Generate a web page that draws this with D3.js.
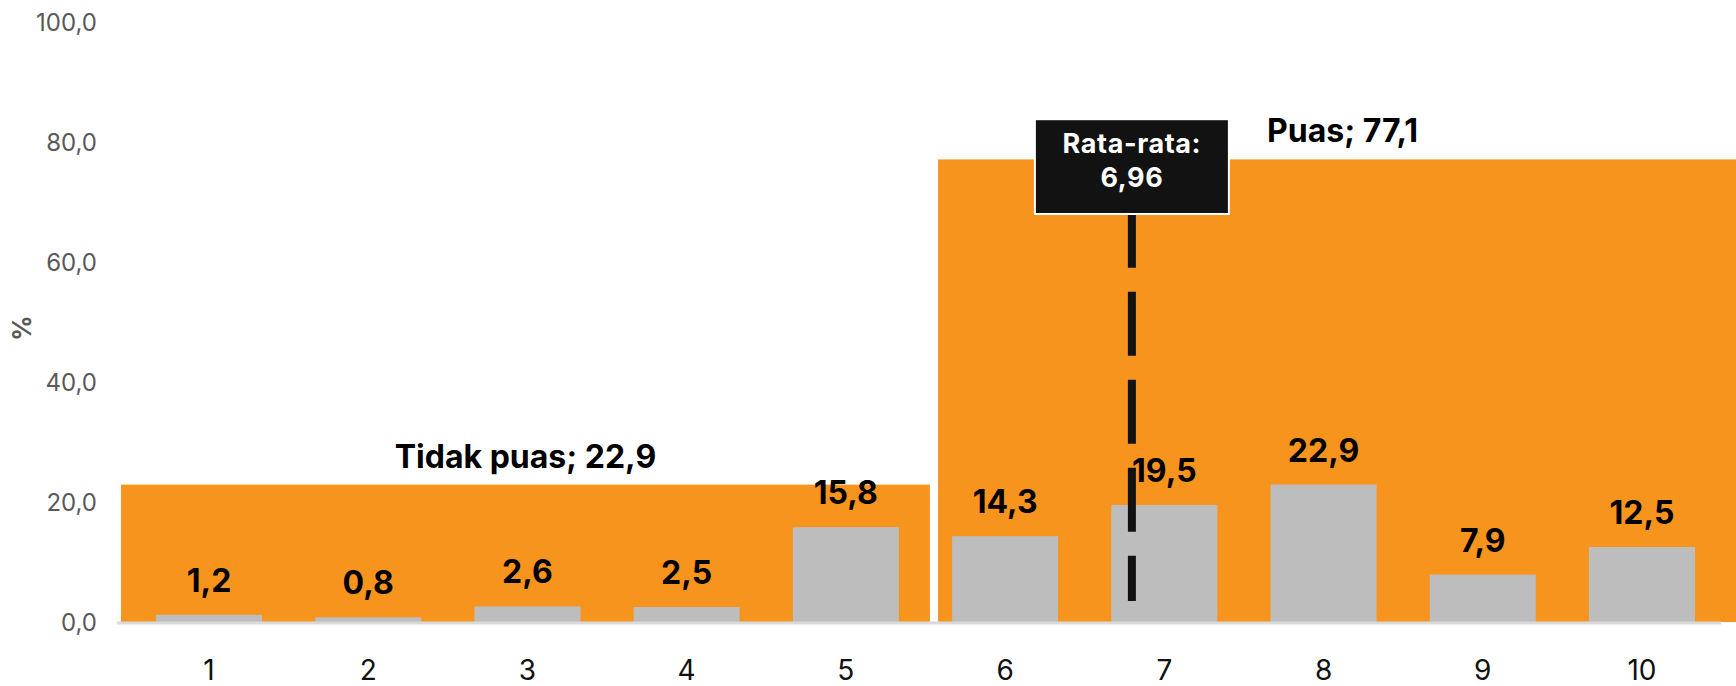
<!DOCTYPE html>
<html>
<head>
<meta charset="utf-8">
<script src="https://cdn.jsdelivr.net/npm/d3@7"></script>
<style>
  body { margin: 0; background: #fff; }
  text { font-family: Inter, "Noto Sans", sans-serif; }
</style>
</head>
<body>
<script>
var categories = ['1', '2', '3', '4', '5', '6', '7', '8', '9', '10'];
var values = [1.2, 0.8, 2.6, 2.5, 15.8, 14.3, 19.5, 22.9, 7.9, 12.5];
var groups = ['Tidak puas', 'Puas'];
var groupValues = [22.9, 77.1];
var yTicks = [0, 20, 40, 60, 80, 100];
var meanLabel = 'Rata-rata:';
var meanValue = 6.96;

var width = 1736;
var height = 686;

var locale = d3.formatLocale({ decimal: ',', thousands: '.', grouping: [3], currency: ['', ''] });
var fmt1 = locale.format('.1f');
var fmt2 = locale.format('.2f');

var svg = d3.select('body').append('svg')
    .attr('width', width)
    .attr('height', height);

var x = d3.scaleBand()
    .domain(categories)
    .range([129.4, 1721.6])
    .paddingInner(0.334)
    .paddingOuter(0.167);

// background blocks sit on their own band scale
var xg = d3.scaleBand()
    .domain(groups)
    .range([121, 1747])
    .paddingInner(0.01);

// secondary axis used for the mean marker
var xm = d3.scaleLinear()
    .domain([0, categories.length + 1])
    .range([117, 1721]);

var y = d3.scaleLinear()
    .domain([0, 100])
    .range([622, 22]);

// y tick labels
svg.append('g').selectAll('text')
    .data(yTicks)
    .join('text')
    .attr('x', 97)
    .attr('y', function (d) { return y(d); })
    .attr('dy', '0.36em')
    .attr('text-anchor', 'end')
    .attr('fill', '#595959')
    .attr('font-size', 24)
    .text(function (d) { return fmt1(d); });

svg.append('text')
    .attr('transform', 'translate(31,' + y(49) + ') rotate(-90)')
    .attr('text-anchor', 'middle')
    .attr('fill', '#595959')
    .attr('font-size', 25)
    .attr('font-weight', 700)
    .text('%');

// orange group blocks
svg.append('g').selectAll('rect')
    .data(groups)
    .join('rect')
    .attr('x', function (d) { return xg(d); })
    .attr('width', xg.bandwidth())
    .attr('y', function (d, i) { return y(groupValues[i]); })
    .attr('height', function (d, i) { return y(0) - y(groupValues[i]); })
    .attr('fill', '#f7941e');

svg.append('g').selectAll('text')
    .data(groups)
    .join('text')
    .attr('x', function (d) { return xg(d) + xg.bandwidth() / 2; })
    .attr('y', function (d, i) { return y(groupValues[i]) - 17; })
    .attr('text-anchor', 'middle')
    .attr('font-size', 32)
    .attr('font-weight', 'bold')
    .attr('fill', '#000')
    .text(function (d, i) { return d + '; ' + fmt1(groupValues[i]); });

// grey bars
svg.append('g').selectAll('rect')
    .data(values)
    .join('rect')
    .attr('x', function (d, i) { return x(categories[i]); })
    .attr('width', x.bandwidth())
    .attr('y', function (d) { return y(d); })
    .attr('height', function (d) { return y(0) - y(d); })
    .attr('fill', '#bdbdbd');

// x axis
var xAxis = svg.append('g')
    .attr('transform', 'translate(0,' + y(0) + ')')
    .call(d3.axisBottom(x).tickSize(0).tickPadding(38));
xAxis.select('.domain').remove();
xAxis.selectAll('text')
    .attr('font-family', 'Inter, sans-serif')
    .attr('font-size', 28)
    .attr('fill', '#111');

svg.append('line')
    .attr('x1', 117)
    .attr('x2', 1721)
    .attr('y1', y(0) + 1)
    .attr('y2', y(0) + 1)
    .attr('stroke', '#d9d9d9')
    .attr('stroke-width', 3);

// mean marker
var mx = xm(meanValue);
svg.append('line')
    .attr('x1', mx)
    .attr('x2', mx)
    .attr('y1', y(69.7))
    .attr('y2', y(3.5))
    .attr('stroke', '#111211')
    .attr('stroke-width', 8)
    .attr('stroke-dasharray', '64 24');

// value labels
svg.append('g').selectAll('text')
    .data(values)
    .join('text')
    .attr('x', function (d, i) { return x(categories[i]) + x.bandwidth() / 2; })
    .attr('y', function (d) { return y(d) - 23; })
    .attr('text-anchor', 'middle')
    .attr('font-size', 32)
    .attr('font-weight', 'bold')
    .attr('fill', '#000')
    .text(function (d) { return fmt1(d); });

svg.append('rect')
    .attr('x', mx - 97)
    .attr('width', 194)
    .attr('y', y(83.8))
    .attr('height', y(68) - y(83.8))
    .attr('fill', '#111211')
    .attr('stroke', '#fff')
    .attr('stroke-width', 2);

svg.append('text')
    .attr('x', mx)
    .attr('y', 153)
    .attr('text-anchor', 'middle')
    .attr('font-size', 27)
    .attr('font-weight', 'bold')
    .attr('letter-spacing', 0.6)
    .attr('fill', '#fff')
    .text(meanLabel);

svg.append('text')
    .attr('x', mx)
    .attr('y', 187)
    .attr('text-anchor', 'middle')
    .attr('font-size', 27)
    .attr('font-weight', 'bold')
    .attr('letter-spacing', 0.6)
    .attr('fill', '#fff')
    .text(fmt2(meanValue));
</script>
</body>
</html>
